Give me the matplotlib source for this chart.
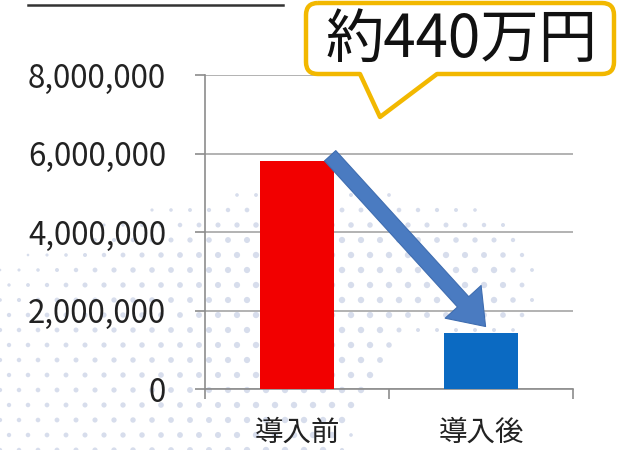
import numpy as np
import matplotlib
matplotlib.use("Agg")
import matplotlib.pyplot as plt
from matplotlib.patches import PathPatch, FancyArrowPatch
from matplotlib.path import Path
from matplotlib.ticker import FuncFormatter

plt.rcParams['font.family'] = ['Noto Sans CJK JP', 'DejaVu Sans']

categories = ['導入前', '導入後']
costs = [5820000, 1420000]
bar_colors = ['#F20000', '#0B6AC2']
y_ticks = [0, 2000000, 4000000, 6000000, 8000000]
callout_text = '約440万円'

W, H = 617, 450
fig = plt.figure(figsize=(W / 100, H / 100), dpi=100)
fig.patch.set_facecolor('white')


def px(x, y):
    # pixel position (from top-left) -> figure fraction
    return x / W, 1 - y / H


# faint dotted wave in the background
bg = fig.add_axes([0, 0, 1, 1], zorder=0)
bg.set_xlim(0, W)
bg.set_ylim(H, 0)
bg.axis('off')
gx, gy = np.meshgrid(np.arange(0, W, 19.0), np.arange(0, H + 15, 15.0))
gx = gx + (np.round(gy / 15) % 2) * 9
top = 260 - 0.5 * gx + 0.0008 * gx ** 2
bottom = np.where(gx < 330, 480, np.maximum(335, 480 - (gx - 330) * 2))
fade_in = np.clip((gy - top) / 60, 0, 1)
fade_out = np.clip((bottom - gy) / 25, 0, 1)
fade_side = np.clip(1 - (gx - 500) / 40, 0, 1)
strength = fade_in * fade_out * fade_side
keep = strength > 0.1
grow = 0.45 + 0.55 * np.clip(gx / 260, 0, 1)
bg.scatter(gx[keep], gy[keep], s=(5 + 16 * strength[keep]) * grow[keep],
           c='#D3DAEA', alpha=0.9, edgecolors='none')

ax = fig.add_axes([205 / W, 1 - 389 / H, (573 - 205) / W, (389 - 75) / H], zorder=1)
ax.patch.set_alpha(0)
x = np.arange(len(categories))
ax.bar(x, costs, width=0.4, color=bar_colors, zorder=3)

ax.set_xlim(-0.5, len(categories) - 0.5)
ax.set_ylim(0, 8000000)
ax.set_yticks(y_ticks)
ax.yaxis.set_major_formatter(FuncFormatter(lambda v, p: f'{int(v):,}'))
ax.set_xticks(x)
ax.set_xticklabels(categories)
ax.set_xticks(np.arange(-0.5, len(categories)), minor=True)
ax.tick_params(axis='x', which='major', length=0, pad=21, labelsize=20.5, colors='#222222')
ax.tick_params(axis='x', which='minor', length=7, width=1.2, color='#8C8C8C')
ax.tick_params(axis='y', length=7, width=1.2, color='#8C8C8C', pad=21,
               labelsize=22.5, labelcolor='#222222')
ax.grid(axis='y', color='#A6A6A6', linewidth=1.2, zorder=1)
for s in ['top', 'right']:
    ax.spines[s].set_visible(False)
for s in ['left', 'bottom']:
    ax.spines[s].set_color('#8C8C8C')
    ax.spines[s].set_linewidth(1.2)

# arrow from the top of the first bar down to the second
arrow = FancyArrowPatch((x[0] + 0.17, costs[0] * 1.03), (x[1] + 0.035, costs[1] + 120000),
                        arrowstyle='simple,head_length=2.4,head_width=3.5,tail_width=1.1',
                        mutation_scale=10, color='#4A7BC1', ec='#3F6DB0', lw=0.8, zorder=5)
ax.add_patch(arrow)

# speech balloon
x0, x1, y0, y1, r = 306, 614, 3, 74, 12
pts = [
    (x0 + r, y0), (x1 - r, y0), (x1, y0), (x1, y0 + r), (x1, y1 - r), (x1, y1), (x1 - r, y1),
    (437, y1), (380, 117), (360, y1),
    (x0 + r, y1), (x0, y1), (x0, y1 - r), (x0, y0 + r), (x0, y0), (x0 + r, y0),
]
codes = [Path.MOVETO, Path.LINETO, Path.CURVE3, Path.CURVE3, Path.LINETO, Path.CURVE3, Path.CURVE3,
         Path.LINETO, Path.LINETO, Path.LINETO,
         Path.LINETO, Path.CURVE3, Path.CURVE3, Path.LINETO, Path.CURVE3, Path.CURVE3]
balloon = Path([px(*p) for p in pts], codes)
fig.patches.append(PathPatch(balloon, transform=fig.transFigure, facecolor='white',
                             edgecolor='#F2B800', linewidth=3.2, joinstyle='round', zorder=10))
fig.text(*px(462, 40), callout_text, fontsize=42, ha='center', va='center',
         color='#111111', zorder=11)

# underline of the heading at the top edge
fig.add_artist(plt.Line2D([28 / W, 283 / W], [1 - 5 / H, 1 - 5 / H], color='#333333',
                          linewidth=1.8, transform=fig.transFigure))

fig.savefig('out.png', dpi=100)
